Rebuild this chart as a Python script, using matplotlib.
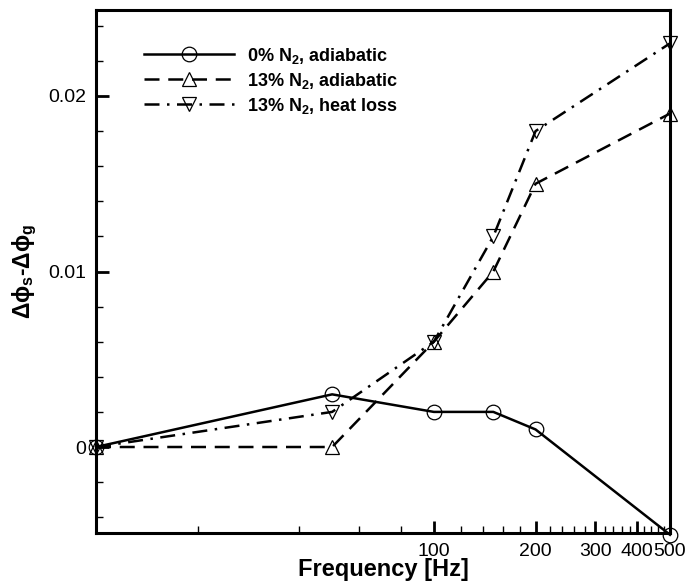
import numpy as np
import matplotlib.pyplot as plt
from matplotlib.ticker import FixedLocator, FixedFormatter

plt.rcParams['font.family'] = ['Liberation Sans', 'DejaVu Sans']
plt.rcParams['mathtext.fontset'] = 'custom'
plt.rcParams['mathtext.rm'] = 'Liberation Sans:bold'
plt.rcParams['mathtext.bf'] = 'Liberation Sans:bold'
plt.rcParams['mathtext.it'] = 'Liberation Sans:bold'

freq = [10, 50, 100, 150, 200, 500]
n0_adiabatic = [0.0, 0.003, 0.002, 0.002, 0.001, -0.005]
n13_adiabatic = [0.0, 0.0, 0.006, 0.010, 0.015, 0.019]
n13_heatloss = [0.0, 0.002, 0.006, 0.012, 0.018, 0.023]

labels = [r'0% N$_\mathbf{2}$, adiabatic',
          r'13% N$_\mathbf{2}$, adiabatic',
          r'13% N$_\mathbf{2}$, heat loss']

x_major = [100, 200, 300, 400, 500]
x_major_labels = ['100', '200', '300', '400', '500']
y_major = [0.0, 0.01, 0.02]
y_major_labels = ['0', '0.01', '0.02']

fig = plt.figure(figsize=(6.86, 5.87), dpi=100)
ax = fig.add_axes([96 / 686, 54 / 587, 574 / 686, 523 / 587])

kw = dict(color='black', lw=1.8, ms=10.5, mfc='none', mec='black', mew=0.9, clip_on=False)
ax.plot(freq, n0_adiabatic, ls='-', marker='o', label=labels[0], **kw)
ax.plot(freq, n13_adiabatic, ls=(0, (6, 3.5)), marker='^', label=labels[1], **kw)
ax.plot(freq, n13_heatloss, ls=(0, (6, 3, 1, 3)), marker='v', label=labels[2], **kw)

ax.set_xscale('log')
ax.set_xlim(10, 500)
ax.set_ylim(-0.0049, 0.0249)

ax.xaxis.set_major_locator(FixedLocator(x_major))
ax.xaxis.set_major_formatter(FixedFormatter(x_major_labels))
minor_x = [v for v in range(20, 500, 20) if v not in x_major]
ax.xaxis.set_minor_locator(FixedLocator(minor_x))
ax.xaxis.set_minor_formatter(FixedFormatter([''] * len(minor_x)))

ax.yaxis.set_major_locator(FixedLocator(y_major))
ax.yaxis.set_major_formatter(FixedFormatter(y_major_labels))
ax.yaxis.set_minor_locator(FixedLocator(np.arange(-0.004, 0.0245, 0.002)))

ax.tick_params(which='both', direction='in', labelsize=14, pad=7)
ax.tick_params(which='major', length=9, width=2)
ax.tick_params(which='minor', length=5, width=1)

for s in ax.spines.values():
    s.set_linewidth(2.2)

ax.set_xlabel('Frequency [Hz]', fontsize=17, fontweight='bold', labelpad=-1)
ax.set_ylabel(r'$\Delta\phi_\mathbf{s}$-$\Delta\phi_\mathbf{g}$', fontsize=16.5,
              fontweight='bold', labelpad=7)

ax.legend(loc='upper left', bbox_to_anchor=(0.0836, 0.932), frameon=False,
          borderpad=0, borderaxespad=0,
          prop={'size': 13, 'weight': 'bold'}, handlelength=5.0,
          numpoints=1, labelspacing=0.28, handletextpad=0.72)

fig.savefig('out.png', dpi=100)
